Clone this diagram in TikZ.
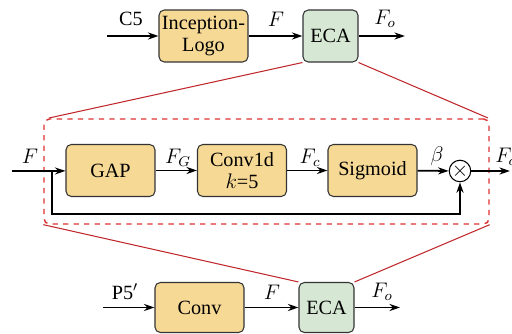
\documentclass[tikz,border=0pt]{standalone}
\usepackage{fontspec}
\setmainfont{Liberation Serif}
\usetikzlibrary{arrows.meta}
\definecolor{boxyellow}{RGB}{247,217,150}
\definecolor{boxgreen}{RGB}{214,232,212}
\definecolor{zoomred}{RGB}{192,40,45}
\definecolor{dashred}{RGB}{222,50,50}
\begin{document}
\begin{tikzpicture}[x=0.02cm,y=-0.02cm,font=\fontsize{11.5}{12.5}\selectfont,
  block/.style={draw=black!80,line width=0.6pt,rounded corners=3pt,fill=boxyellow,
    minimum width=1.78cm,minimum height=1.04cm,align=center,inner sep=1pt},
  ecabox/.style={block,fill=boxgreen,minimum width=1.1cm},
  flow/.style={line width=1pt,-{Stealth[length=6pt,width=4pt]}},
  zoomline/.style={draw=zoomred,line width=0.6pt}]
\useasboundingbox (0,0) rectangle (512,334);
% top row
\coordinate (c5) at (107,36);
\node[block] (incep) at (203.5,36) {Inception-\\Logo};
\node[ecabox] (ecatop) at (330.5,36) {ECA};
\coordinate (fotop) at (405,36);
\draw[flow] (c5) -- (incep);
\draw[flow] (incep) -- (ecatop);
\draw[flow] (ecatop) -- (fotop);
\draw (131,19) node {C5};
\draw (276,19) node {$F$};
\draw (385,19) node {$F_o$};
% zoomed ECA
\node[draw=dashred,dashed,line width=0.8pt,rounded corners=3pt,minimum width=8.9cm,minimum height=2.1cm,inner sep=0pt] (zoom) at (266.5,171.5) {};
\node[block] (gap) at (110.5,170.5) {GAP};
\node[block] (conv1d) at (242,170.5) {Conv1d\\$k$=5};
\node[block] (sigm) at (372.5,170.5) {Sigmoid};
\node[draw,circle,inner sep=0pt,minimum size=0.36cm,line width=0.6pt] (mult) at (460,171) {$\times$};
\coordinate (fin) at (12,171);
\coordinate (split) at (52,171);
\coordinate (fout) at (510,171);
\draw[line width=1pt] (fin) -- (split);
\draw[flow] (split) -- (gap);
\draw[flow] (gap) -- (conv1d);
\draw[flow] (conv1d) -- (sigm);
\draw[flow] (sigm) -- (mult);
\draw[flow] (mult) -- (fout);
\draw[flow] (split) |- (300,214) -| (mult);
\draw (30,156) node {$F$};
\draw (178,158) node {$F_G$};
\draw (310,158) node {$F_c$};
\draw (437,156) node {$\beta$};
\draw (506,157) node {$F_o$};
% bottom row
\coordinate (p5) at (103,307.5);
\node[block,minimum height=1.0cm] (conv) at (199.5,307.5) {Conv};
\node[ecabox,minimum height=1.0cm] (ecabot) at (326.5,307.5) {ECA};
\coordinate (fobot) at (400,307.5);
\draw[flow] (p5) -- (conv);
\draw[flow] (conv) -- (ecabot);
\draw[flow] (ecabot) -- (fobot);
\draw (125,292) node {P5$'$};
\draw (272,292) node {$F$};
\draw (382,292) node {$F_o$};
% zoom lines
\draw[zoomline] (ecatop.south west) -- (49,118);
\draw[zoomline] (ecatop.south east) -- (488,118);
\draw[zoomline] (zoom.south west) -- (ecabot.north west);
\draw[zoomline] (zoom.south east) -- (ecabot.north east);
\end{tikzpicture}
\end{document}
